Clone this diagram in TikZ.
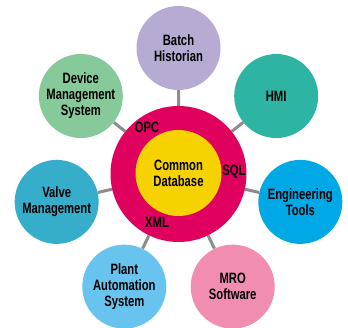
\documentclass[tikz,border=0pt]{standalone}
\usepackage{fontspec}
\setmainfont{Liberation Sans}[FakeStretch=0.75]
\usetikzlibrary{positioning,calc,backgrounds}

\definecolor{batchcol}{HTML}{B7ABD3}
\definecolor{hmicol}{HTML}{2DB4A3}
\definecolor{engcol}{HTML}{00A8E6}
\definecolor{mrocol}{HTML}{F18DB1}
\definecolor{plantcol}{HTML}{68C4EE}
\definecolor{valvecol}{HTML}{36AECB}
\definecolor{devicecol}{HTML}{86C99A}
\definecolor{ringcol}{HTML}{E0005E}
\definecolor{dbcol}{HTML}{F6D200}
\definecolor{linkcol}{HTML}{8C8C8C}

\begin{document}
\begin{tikzpicture}[x=1pt,y=1pt,
                    font=\fontsize{15}{16}\selectfont\bfseries]
	  \tikzstyle{app}=[circle,minimum size=84pt,inner sep=0pt,align=center,text=black]
	  \tikzstyle{link}=[draw=linkcol,line width=3pt]

	  \useasboundingbox (0,0) rectangle (348,327);

	  \node[circle,fill=ringcol,minimum size=136pt] (ring) at (178.5,153) {};
	  \node[circle,fill=dbcol,minimum size=86pt,align=center] (db) at (178.5,154) {Common\\Database};

	  \node[app,fill=batchcol]  (batch)  at ($(ring)+(90:126)$)    {Batch\\Historian};
	  \node[app,fill=hmicol]    (hmi)    at ($(ring)+(38.6:125)$)  {HMI};
	  \node[app,fill=engcol]    (eng)    at ($(ring)+(-12.9:125)$) {Engineering\\Tools};
	  \node[app,fill=mrocol]    (mro)    at ($(ring)+(-64.3:125)$) {MRO\\Software};
	  \node[app,fill=plantcol]  (plant)  at ($(ring)+(-115.7:125)$) {Plant\\Automation\\System};
	  \node[app,fill=valvecol]  (valve)  at ($(ring)+(-167.1:125)$) {Valve\\Management};
	  \node[app,fill=devicecol] (device) at ($(ring)+(141.4:125)$) {Device\\Management\\System};

	  \node (opc) at (147,200) {OPC};
	  \node (sql) at (234,155) {SQL};
	  \node (xml) at (157,105) {XML};

	  \begin{scope}[on background layer]
	  \path[link] (ring) -- (batch) (ring) -- (hmi) (ring) -- (eng)
	  (ring) -- (mro) (ring) -- (plant) (ring) -- (valve) (ring) -- (device);
	  \end{scope}
\end{tikzpicture}
\end{document}
